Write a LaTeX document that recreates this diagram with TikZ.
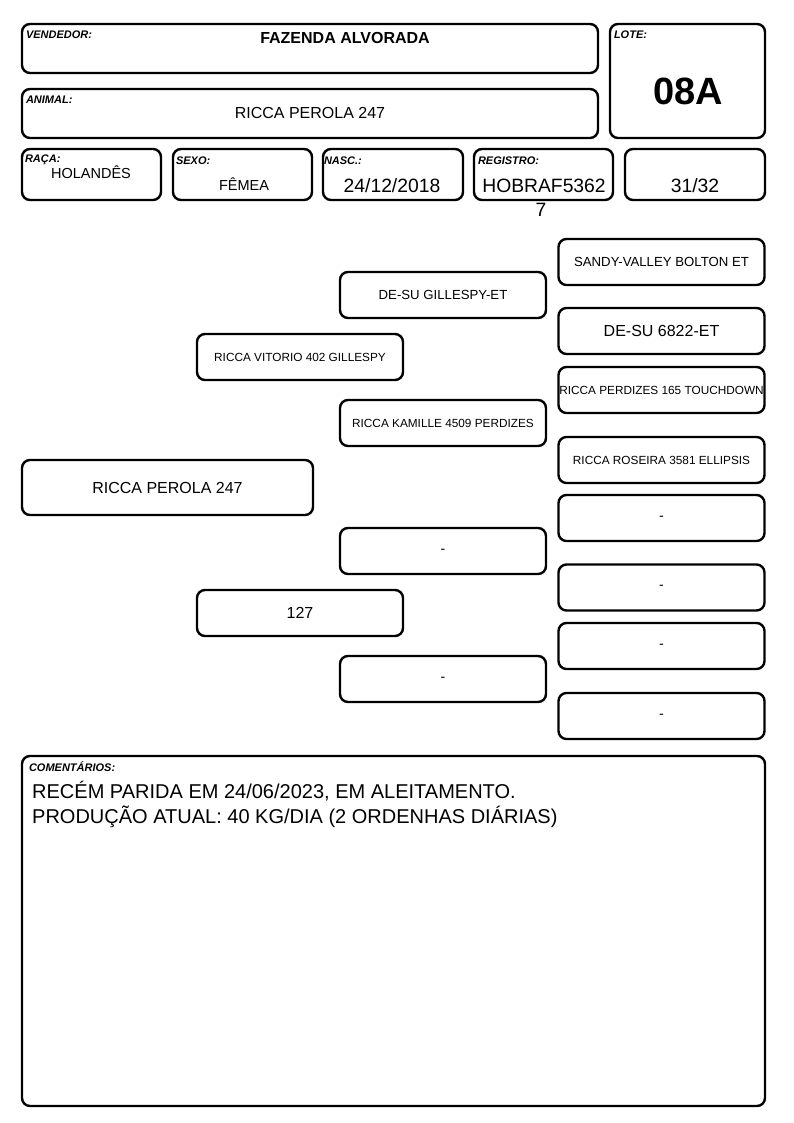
\documentclass[tikz,border=0pt]{standalone}
\usepackage{fontspec}
\setmainfont{Liberation Sans}
\usetikzlibrary{positioning}

\tikzset{
  caixa/.style={draw, line width=2.4pt, rounded corners=8pt, inner sep=0pt},
  geracao/.style={caixa, minimum width=206pt, minimum height=46pt, font=\fontsize{11.8}{14}\selectfont},
  vazio/.style={geracao, font=\fontsize{14}{16}\selectfont},
  rotulo/.style={font=\bfseries\itshape\fontsize{11}{12}\selectfont, inner sep=0pt, anchor=north west},
  valor/.style={font=\fontsize{16}{18}\selectfont, inner sep=0pt}
}

\begin{document}
\begin{tikzpicture}[x=1pt,y=-1pt]
    \useasboundingbox (0,0) rectangle (794,1123);

    % cabecalho
    \node[caixa, minimum width=576pt, minimum height=49pt] (vendedor) at (310,48.5) {};
    \node[caixa, minimum width=576pt, minimum height=49pt] (animal) at (310,113.5) {};
    \node[caixa, minimum width=155pt, minimum height=114pt] (lote) at (687.5,81) {};
    \node[caixa, minimum width=139pt, minimum height=51pt] (raca) at (91.5,174.5) {};
    \node[caixa, minimum width=139pt, minimum height=51pt] (sexo) at (242.5,174.5) {};
    \node[caixa, minimum width=140pt, minimum height=51pt] (nasc) at (393,174.5) {};
    \node[caixa, minimum width=139pt, minimum height=51pt] (registro) at (543.5,174.5) {};
    \node[caixa, minimum width=140pt, minimum height=51pt] (grau) at (695,174.5) {};

    \node[rotulo] (lblVendedor) at ([xshift=5pt,yshift=-8pt]vendedor.north west) {VENDEDOR:};
    \node[rotulo] (lblAnimal) at ([xshift=5pt,yshift=-8pt]animal.north west) {ANIMAL:};
    \node[rotulo] (lblLote) at ([xshift=5pt,yshift=-8pt]lote.north west) {LOTE:};
    \node[rotulo] (lblRaca) at ([xshift=4pt,yshift=-7pt]raca.north west) {RAÇA:};
    \node[rotulo] (lblSexo) at ([xshift=4pt,yshift=-9pt]sexo.north west) {SEXO:};
    \node[rotulo] (lblNasc) at ([xshift=2pt,yshift=-9pt]nasc.north west) {NASC.:};
    \node[rotulo] (lblRegistro) at ([xshift=5pt,yshift=-9pt]registro.north west) {REGISTRO:};

    \node[valor, font=\bfseries\fontsize{16}{18}\selectfont] (txtVendedor) at (345,38) {FAZENDA ALVORADA};
    \node[valor] (txtAnimal) at (310,113) {RICCA PEROLA 247};
    \node[valor, font=\bfseries\fontsize{38}{40}\selectfont] (txtLote) at (688,91) {08A};
    \node[valor, font=\fontsize{14.5}{17}\selectfont] (txtRaca) at (91,172) {HOLANDÊS};
    \node[valor, font=\fontsize{14.5}{17}\selectfont] (txtSexo) at (244,184) {FÊMEA};
    \node[valor, font=\fontsize{19.3}{21}\selectfont] (txtNasc) at (392,186) {24/12/2018};
    \node[valor, font=\fontsize{19.3}{21}\selectfont] (txtRegistro) at (544,186) {HOBRAF5362};
    \node[valor, font=\fontsize{19.3}{21}\selectfont] (txtResto) at (541,210) {7};
    \node[valor, font=\fontsize{19.3}{21}\selectfont] (txtGrau) at (695,186) {31/32};

    % arvore genealogica
    \node[caixa, minimum width=291pt, minimum height=55pt, font=\fontsize{16}{18}\selectfont] (filho) at (167.5,487.5) {RICCA PEROLA 247};
    \node[geracao] (pai) at (300,357) {RICCA VITORIO 402 GILLESPY};
    \node[geracao, font=\fontsize{16}{18}\selectfont] (mae) at (300,613) {127};

    \node[geracao, font=\fontsize{13.2}{15}\selectfont] (avoP) at (443,295) {DE-SU GILLESPY-ET};
    \node[geracao] (avaP) at (443,423) {RICCA KAMILLE 4509 PERDIZES};
    \node[vazio] (avoM) at (443,551) {-};
    \node[vazio] (avaM) at (443,679) {-};

    \node[geracao, font=\fontsize{13.2}{15}\selectfont] (bis1) at (661.5,262) {SANDY-VALLEY BOLTON ET};
    \node[geracao, font=\fontsize{16}{18}\selectfont] (bis2) at (661.5,331) {DE-SU 6822-ET};
    \node[geracao] (bis3) at (661.5,390) {RICCA PERDIZES 165 TOUCHDOWN};
    \node[geracao] (bis4) at (661.5,460) {RICCA ROSEIRA 3581 ELLIPSIS};
    \node[vazio] (bis5) at (661.5,518) {-};
    \node[vazio] (bis6) at (661.5,587.5) {-};
    \node[vazio] (bis7) at (661.5,646) {-};
    \node[vazio] (bis8) at (661.5,716) {-};

    % comentarios
    \node[caixa, minimum width=743pt, minimum height=350pt] (comentarios) at (393.5,931) {};
    \node[rotulo] (lblComentarios) at ([xshift=8pt,yshift=-7pt]comentarios.north west) {COMENTÁRIOS:};
    \node[valor, font=\fontsize{20}{25}\selectfont, anchor=north west, align=left] (txtComentarios) at (32,781)
      {RECÉM PARIDA EM 24/06/2023, EM ALEITAMENTO.\\PRODUÇÃO ATUAL: 40 KG/DIA (2 ORDENHAS DIÁRIAS)};
\end{tikzpicture}
\end{document}
